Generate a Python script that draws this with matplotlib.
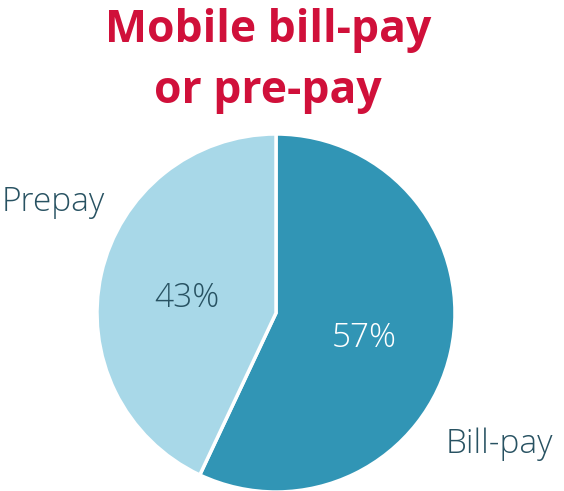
import matplotlib
matplotlib.use("Agg")
from matplotlib import pyplot as plt

# Datos del gráfico
etiquetas = ["Bill-pay", "Prepay"]
valores = [57, 43]
colores = ["#3195B5", "#A8D8E8"]
color_pct = ["white", "#285262"]
titulo = ["Mobile bill-pay", "or pre-pay"]

W, H = 564, 491
fig = plt.figure(figsize=(W / 100, H / 100), dpi=100)

def px(x, y):
    # pixeles (desde arriba-izquierda) -> coordenadas de figura
    return x / W, 1 - y / H

# Eje del pie en pixeles (centro ~ (276, 313), radio ~ 179)
cx, cy, r = 276, 313, 179
ax = fig.add_axes([(cx - r) / W, (H - cy - r) / H, 2 * r / W, 2 * r / H])

wedges, _ = ax.pie(valores, colors=colores, startangle=90, counterclock=False,
                   wedgeprops=dict(edgecolor="white", linewidth=2.5), radius=1.0)
ax.set_xlim(-1, 1)
ax.set_ylim(-1, 1)
ax.set_aspect("equal")
ax.axis("off")

fuente = dict(family="Open Sans", fontweight="light", fontsize=24, va="baseline")

# Porcentajes dentro
fig.text(*px(364, 347), f"{valores[0]}%", color=color_pct[0], ha="center", **fuente)
fig.text(*px(187, 307), f"{valores[1]}%", color=color_pct[1], ha="center", **fuente)

# Etiquetas de categoría
fig.text(*px(553, 453), etiquetas[0], color="#285262", ha="right", **fuente)
fig.text(*px(2, 211), etiquetas[1], color="#285262", ha="left", **fuente)

# Título
fig.text(*px(268, 42), titulo[0], color="#D0103A", fontsize=32,
         fontweight="bold", family="Open Sans", ha="center", va="baseline")
fig.text(*px(268, 103), titulo[1], color="#D0103A", fontsize=32,
         fontweight="bold", family="Open Sans", ha="center", va="baseline")

fig.savefig("out.png", dpi=100)
